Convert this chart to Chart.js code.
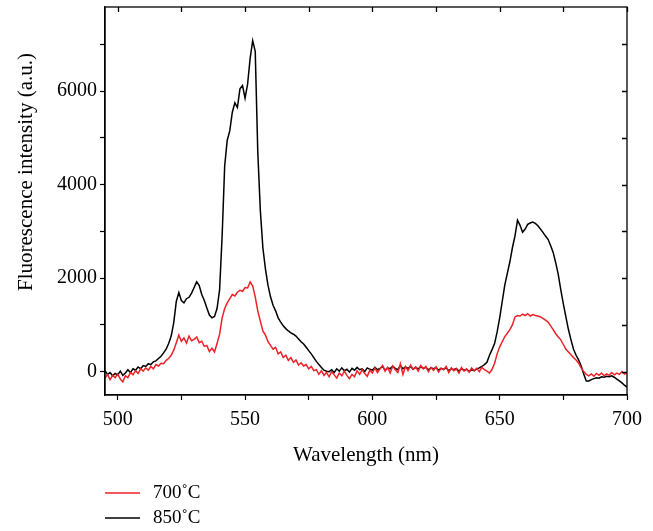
<!DOCTYPE html>
<html>
<head>
<meta charset="utf-8">
<script src="https://cdn.jsdelivr.net/npm/chart.js@4.4.1/dist/chart.umd.min.js"></script>
<style>
  html, body { margin: 0; padding: 0; background: #fff; }
  #wrap { width: 653px; height: 531px; }
</style>
</head>
<body>
<div id="wrap"><canvas id="spectraChart" width="653" height="531"></canvas></div>
<script>
  // sampling grid (nm), one point per nm
  const wavelengths = [];
  for (let w = 495; w <= 700; w++) wavelengths.push(w);

  const seriesLabels = ['700˚C', '850˚C'];
  const seriesColors = ['#ec2227', '#000000'];

  // tick marks and which of them get a label
  const xTickValues = [500, 525, 550, 575, 600, 625, 650, 675, 700];
  const xTickLabels = [500, 550, 600, 650, 700];
  const yTickValues = [0, 1000, 2000, 3000, 4000, 5000, 6000, 7000];
  const yTickLabels = [0, 2000, 4000, 6000];

  // 495..700 nm
  const intensity700 = [
    -140, -60, -170, -80, -130, -50, -160, -220, -90, -130,
    -20, -70, 20, -40, 60, 10, 80, 30, 110, 60,
    150, 120, 180, 170, 240, 280, 350, 460, 620, 780,
    650, 720, 610, 760, 660, 690, 740, 620, 650, 540,
    560, 430, 500, 420, 600, 800, 1150, 1350, 1470, 1560,
    1650, 1620, 1700, 1740, 1720, 1800, 1790, 1920, 1830, 1600,
    1300, 1080, 870, 780, 640, 560, 480, 520, 380, 420,
    300, 350, 240, 300, 200, 250, 140, 190, 120, 150,
    60, 110, 20, 40, -60, 20, -80, -20, -110, 0,
    -70, -140, -30, -90, 10, -80, -150, -60, -110, 20,
    -60, 40, -40, -100, 30, -30, 80, -20, 60, 130,
    10, 90, -30, 120, 40, -20, 170, -60, 110, 20,
    140, 50, 100, 10, 130, 60, 110, 0, 90, 30,
    100, -10, 70, 40, 110, -20, 80, 20, 60, -30,
    90, 10, 60, -10, 80, 20, 70, 0, 90, 40,
    10, -30, 50, 180, 380, 530, 640, 750, 820, 900,
    1000, 1170, 1200, 1190, 1230, 1200, 1240, 1190, 1220, 1200,
    1190, 1170, 1140, 1100, 1060, 980, 900, 810, 740, 680,
    580, 480, 420, 360, 300, 250, 180, 80, 0, -60,
    -90, -50, -100, -40, -80, -30, -90, -50, -80, -20,
    -70, -30, -60, 0, -50, -20
  ];

  const intensity850 = [
    20, -60, -20, -90, -40, -70, 10, -80, -30, 40,
    -20, 60, 30, 100, 60, 130, 110, 170, 150, 210,
    230, 280, 330, 400, 480, 600, 760, 1050, 1500, 1690,
    1520, 1470, 1560, 1590, 1680, 1800, 1920, 1840, 1650, 1520,
    1360, 1210, 1150, 1180, 1350, 1750, 2900, 4400, 4950, 5150,
    5550, 5750, 5650, 6050, 6120, 5850, 6150, 6700, 7080, 6850,
    4700, 3450, 2650, 2200, 1850, 1600, 1420, 1300, 1150, 1060,
    980, 920, 870, 830, 800, 760, 700, 640, 590, 520,
    450, 380, 300, 220, 150, 90, 30, 10, 0, 40,
    -20, 60, 10, 80, 20, 50, -10, 70, 30, 90,
    40, 60, 0, 80, 50, 30, 90, 40, 70, 110,
    30, 80, 60, 120, 70, 40, 130, 60, 100, 70,
    110, 50, 90, 60, 100, 70, 90, 40, 80, 60,
    90, 30, 70, 50, 80, 20, 60, 40, 70, 10,
    60, 30, 50, 0, 40, 20, 60, 80, 110, 150,
    200, 350, 470, 600, 850, 1150, 1500, 1850, 2100, 2350,
    2650, 2900, 3240, 3130, 2980, 3050, 3150, 3180, 3200, 3170,
    3120, 3050, 2980, 2900, 2830, 2700, 2550, 2330, 2080, 1750,
    1450, 1170, 900, 680, 480, 350, 250, 120, -50, -200,
    -200, -170, -150, -130, -140, -110, -120, -100, -110, -90,
    -120, -160, -200, -240, -290, -330
  ];

  const serif = "'Liberation Serif', 'DejaVu Serif', serif";

  const toPoints = vals => wavelengths.map((w, i) => ({ x: w, y: vals[i] }));

  // closes the box, draws inward ticks on top/right, y title and legend
  const framePlugin = {
    id: 'frame',
    afterDraw(chart) {
      const { ctx, chartArea: a, scales } = chart;
      ctx.save();
      ctx.strokeStyle = '#000';
      ctx.lineWidth = 1.3;
      ctx.strokeRect(a.left, a.top, a.right - a.left, a.bottom - a.top);

      ctx.beginPath();
      scales.x.ticks.forEach(t => {
        const px = Math.round(scales.x.getPixelForValue(t.value)) + 0.5;
        ctx.moveTo(px, a.top);
        ctx.lineTo(px, a.top + 5);
      });
      scales.y.ticks.forEach(t => {
        const py = Math.round(scales.y.getPixelForValue(t.value)) + 0.5;
        ctx.moveTo(a.right, py);
        ctx.lineTo(a.right - 5, py);
      });
      ctx.stroke();

      // y axis title
      ctx.fillStyle = '#000';
      ctx.font = '21px ' + serif;
      ctx.textAlign = 'center';
      ctx.textBaseline = 'middle';
      ctx.translate(26, 172);
      ctx.rotate(-Math.PI / 2);
      ctx.fillText('Fluorescence intensity (a.u.)', 0, 0);
      ctx.setTransform(1, 0, 0, 1, 0, 0);

      // legend
      ctx.font = '19px ' + serif;
      ctx.textAlign = 'left';
      chart.data.datasets.forEach((ds, i) => {
        const y = 493 + i * 25;
        ctx.strokeStyle = ds.borderColor;
        ctx.lineWidth = 1.3;
        ctx.beginPath();
        ctx.moveTo(105, y);
        ctx.lineTo(140, y);
        ctx.stroke();
        ctx.fillText(ds.label, 153, y);
      });
      ctx.restore();
    }
  };

  const ctx = document.getElementById('spectraChart');

  new Chart(ctx, {
    type: 'line',
    data: {
      datasets: [
        {
          label: seriesLabels[0],
          data: toPoints(intensity700),
          borderColor: seriesColors[0],
          borderWidth: 1.5,
          pointRadius: 0,
          tension: 0
        },
        {
          label: seriesLabels[1],
          data: toPoints(intensity850),
          borderColor: seriesColors[1],
          borderWidth: 1.5,
          pointRadius: 0,
          tension: 0
        }
      ]
    },
    options: {
      responsive: false,
      animation: false,
      devicePixelRatio: 1,
      layout: {
        padding: { left: 0, top: 7, right: 26, bottom: 0 }
      },
      plugins: {
        legend: { display: false },
        tooltip: { enabled: false }
      },
      scales: {
        x: {
          type: 'linear',
          min: 495,
          max: 700,
          afterBuildTicks: s => { s.ticks = xTickValues.map(v => ({ value: v })); },
          afterFit: s => { s.height = 136; s.paddingLeft = 0; s.paddingRight = 0; },
          ticks: {
            autoSkip: false,
            maxRotation: 0,
            padding: 8,
            color: '#000',
            font: { family: serif, size: 20 },
            callback: v => xTickLabels.includes(v) ? String(v) : ''
          },
          grid: {
            drawOnChartArea: false,
            tickLength: 5,
            color: '#000',
            tickWidth: 1.2
          },
          border: { color: '#000', width: 1.3 },
          title: {
            display: true,
            text: 'Wavelength (nm)',
            color: '#000',
            font: { family: serif, size: 21 },
            padding: { top: 0, bottom: 63 }
          }
        },
        y: {
          type: 'linear',
          min: -500,
          max: 7800,
          afterBuildTicks: s => { s.ticks = yTickValues.map(v => ({ value: v })); },
          afterFit: s => { s.width = 105; s.paddingTop = 0; s.paddingBottom = 0; },
          ticks: {
            autoSkip: false,
            padding: 3,
            color: '#000',
            font: { family: serif, size: 20 },
            callback: v => yTickLabels.includes(v) ? String(v) : ''
          },
          grid: {
            drawOnChartArea: false,
            tickLength: 5,
            color: '#000',
            tickWidth: 1.2
          },
          border: { color: '#000', width: 1.3 }
        }
      }
    },
    plugins: [framePlugin]
  });
</script>
</body>
</html>
